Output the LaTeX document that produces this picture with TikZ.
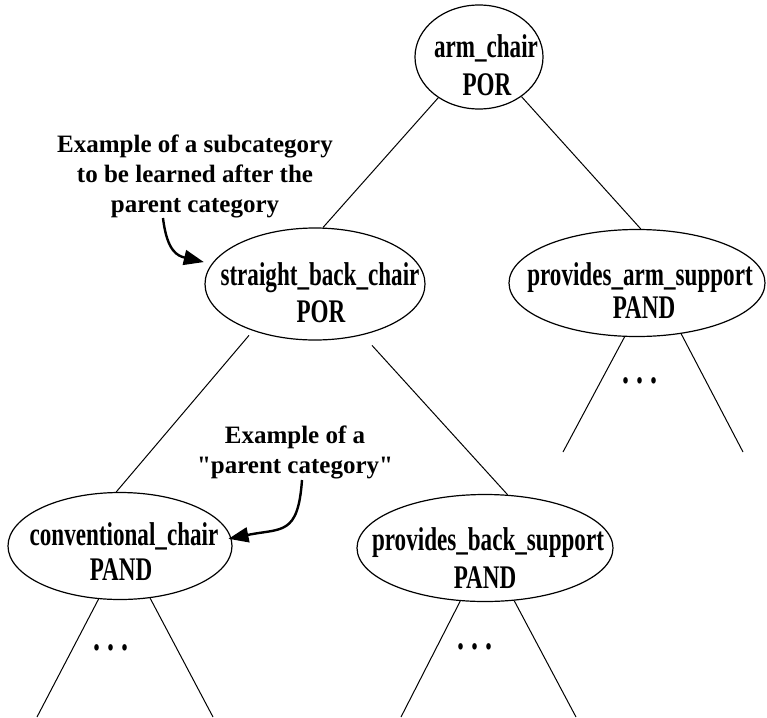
\documentclass[tikz,border=0pt]{standalone}
\usepackage{fontspec}
\setmainfont{Liberation Serif}
\newfontfamily\labfont{Liberation Serif}[FakeStretch=0.7]
\usetikzlibrary{shapes.geometric,arrows.meta}
\begin{document}
\begin{tikzpicture}[x=1pt,y=-1pt,
  catnode/.style={ellipse, draw, line width=1.2pt, inner sep=0pt},
  labtext/.style={anchor=base, inner sep=0pt, font=\labfont\bfseries\fontsize{33}{40}\selectfont},
  dots/.style={inner sep=0pt, font=\labfont\bfseries\fontsize{40}{40}\selectfont},
  note/.style={align=center, inner sep=0pt, font=\bfseries\fontsize{25}{30}\selectfont},
  edge/.style={line width=1pt},
  pointer/.style={line width=2.4pt, -{Triangle[length=20pt,width=15pt]}}]
\useasboundingbox (0,0) rectangle (767,717);

% category ellipses
\node[catnode, minimum width=128pt, minimum height=104pt] (ac) at (479,57) {};
\node[catnode, minimum width=220pt, minimum height=112pt] (sbc) at (315,284) {};
\node[catnode, minimum width=256pt, minimum height=107pt] (pas) at (637,283) {};
\node[catnode, minimum width=224pt, minimum height=107pt] (cc) at (120,546) {};
\node[catnode, minimum width=256pt, minimum height=107pt] (pbs) at (485,548) {};

% labels
\node[labtext] (ac-n) at (486,57) {arm\_chair};
\node[labtext] (ac-t) at (487,95) {POR};
\node[labtext] (sbc-n) at (320,285) {straight\_back\_chair};
\node[labtext] (sbc-t) at (321,322) {POR};
\node[labtext] (pas-n) at (640,285) {provides\_arm\_support};
\node[labtext] (pas-t) at (644,318) {PAND};
\node[labtext] (cc-n) at (124,545) {conventional\_chair};
\node[labtext] (cc-t) at (121,580) {PAND};
\node[labtext] (pbs-n) at (488,550) {provides\_back\_support};
\node[labtext] (pbs-t) at (485,588) {PAND};

% tree edges
\draw[edge] (ac.225) -- (sbc.82);
\draw[edge] (ac.317) -- (pas.86);
\draw[edge, shorten <=6pt] (sbc.217) -- (cc.94);
\draw[edge, shorten <=14pt] (sbc.313) -- (pbs.67);

% open subtrees
\coordinate (pas-l) at (563,452);
\coordinate (pas-r) at (743,452);
\coordinate (cc-l) at (37,717);
\coordinate (cc-r) at (213,717);
\coordinate (pbs-l) at (401,717);
\coordinate (pbs-r) at (576,717);
\draw[edge] (pas.257) -- (pas-l);
\draw[edge] (pas.311) -- (pas-r);
\draw[edge] (cc.248) -- (cc-l);
\draw[edge] (cc.300) -- (cc-r);
\draw[edge] (pbs.245) -- (pbs-l);
\draw[edge] (pbs.299) -- (pbs-r);
\node[dots] (pas-d) at (640,381) {.\hspace{7pt}.\hspace{7pt}.};
\node[dots] (cc-d) at (111,648) {.\hspace{7pt}.\hspace{7pt}.};
\node[dots] (pbs-d) at (475,647) {.\hspace{7pt}.\hspace{7pt}.};

% annotations
\node[note] (note1) at (195,176) {Example of a subcategory\\to be learned after the\\parent category};
\node[note] (note2) at (295,452) {Example of a\\\textquotedbl parent category\textquotedbl};
\coordinate (n1s) at (163,218);
\coordinate (n2s) at (302,480);
\draw[pointer, shorten >=8pt] (n1s) .. controls (167,252) and (178,256) .. (sbc.169);
\draw[pointer, shorten >=-3pt] (n2s) .. controls (298,536) and (282,528) .. (cc.4);
\end{tikzpicture}
\end{document}
